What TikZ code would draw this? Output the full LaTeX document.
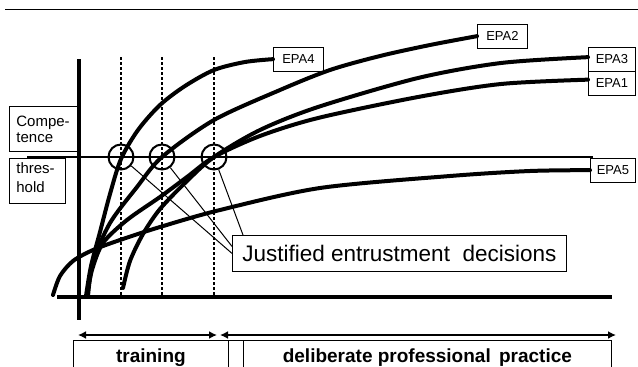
\documentclass[tikz,border=0pt]{standalone}
\usepackage{fontspec}
\setmainfont{Liberation Sans}
\usetikzlibrary{arrows.meta}

\tikzset{
  epacurve/.style={line width=4pt, line cap=round},
  epa/.style={draw, fill=white, line width=0.8pt, inner sep=0pt, anchor=north west,
    minimum height=23.5pt, font=\fontsize{13}{13}\selectfont},
  sidebox/.style={draw, line width=0.8pt, align=left, inner xsep=7pt, anchor=north west,
    minimum height=45pt, font=\fontsize{15}{16}\selectfont},
  barbox/.style={draw, line width=0.8pt, anchor=north west, minimum height=34pt,
    font=\bfseries\fontsize{19}{19}\selectfont},
  entrust/.style={circle, draw, line width=2pt, minimum size=25pt, inner sep=0pt},
  moment/.style={line width=2.5pt, dash pattern=on 2.5pt off 2.5pt},
  phase/.style={line width=2pt, {Latex[length=8pt,width=8pt]}-{Latex[length=8pt,width=8pt]}},
}

\begin{document}
\begin{tikzpicture}[x=1pt, y=-1pt]
\useasboundingbox (0,0) rectangle (638,367);

% rule and axes
\draw[line width=1pt] (5,9) -- (638,9);
\draw[line width=3.5pt] (79,59) -- (79,320);
\draw[line width=3.5pt] (57,297) -- (612,297);
\draw[line width=2pt] (27,157) -- (593,157);

% decision moments
\draw[moment] (121,57) -- (121,297);
\draw[moment] (162,57) -- (162,297);
\draw[moment] (214,57) -- (214,297);

% labels on the left
\node[sidebox, text width=54pt] (comp) at (9,106) {Compe-\\tence};
\node[sidebox, text width=42pt, font=\fontsize{15}{19}\selectfont, inner ysep=4pt] (thres) at (9,158) {thres-\\hold\rule[-7pt]{0pt}{0pt}};

% activities
\node[epa, minimum width=50pt] (EPA4) at (273,47) {EPA4};
\node[epa, minimum width=50pt] (EPA2) at (477,24) {EPA2};
\node[epa, minimum width=47pt] (EPA3) at (588,47) {EPA3};
\node[epa, minimum width=47pt] (EPA1) at (588,71) {EPA1};
\node[epa, minimum width=45pt] (EPA5) at (590,158) {EPA5};

% competence curves
\draw[epacurve] plot[smooth] coordinates {(86,296) (91,266) (100,232) (110,194) (121,159)
  (138,130) (160,105) (185,86) (214,70) (245,62) (EPA4.west)};
\draw[epacurve] plot[smooth] coordinates {(88,296) (93,262) (110,223) (137,187) (162,157)
  (214,120) (280,90) (330,70) (380,56) (430,45) (EPA2.west)};
\draw[epacurve] plot[smooth] coordinates {(123,288) (130,261) (143,234) (160,209) (187,181)
  (214,157) (260,130) (318,107) (418,78) (501,63) ([yshift=2pt]EPA3.west)};
\draw[epacurve] plot[smooth] coordinates {(87,296) (92,270) (103,243) (127,220) (160,197)
  (187,177) (214,157) (260,136) (318,118) (418,97) (501,84) ([yshift=3.5pt]EPA1.west)};
\draw[epacurve] plot[smooth] coordinates {(53,295) (60,276) (73,261) (93,250) (120,240)
  (160,227) (220,210) (320,188) (450,176) (530,171) (EPA5.west)};

% entrustment decisions
\node[entrust] (c1) at (121,157) {};
\node[entrust] (c2) at (162,157) {};
\node[entrust] (c3) at (214,157) {};
\node[draw, line width=0.8pt, anchor=north west, minimum width=334pt, minimum height=36pt,
  inner sep=0pt, font=\fontsize{22.5}{22.5}\selectfont] (just) at (232,235)
  {Justified entrustment\ \ decisions};
\draw[line width=1pt] (c1) -- (just.west);
\draw[line width=1pt] (c2) -- ([yshift=7pt]just.west);
\draw[line width=1pt] (c3) -- ([xshift=11pt]just.north west);

% phases
\coordinate (t0) at (78,335);
\coordinate (t1) at (217,335);
\coordinate (p0) at (220,335);
\coordinate (p1) at (616,335);
\draw[phase] (t0) -- (t1);
\draw[phase] (p0) -- (p1);
\node[barbox, minimum width=155pt] (train) at (73,340) {training};
\node[barbox, minimum width=368pt] (delib) at (243,340) {deliberate professional\hspace{3pt} practice};
\draw[line width=0.8pt] (train.north east) -- (delib.north west);
\end{tikzpicture}
\end{document}
